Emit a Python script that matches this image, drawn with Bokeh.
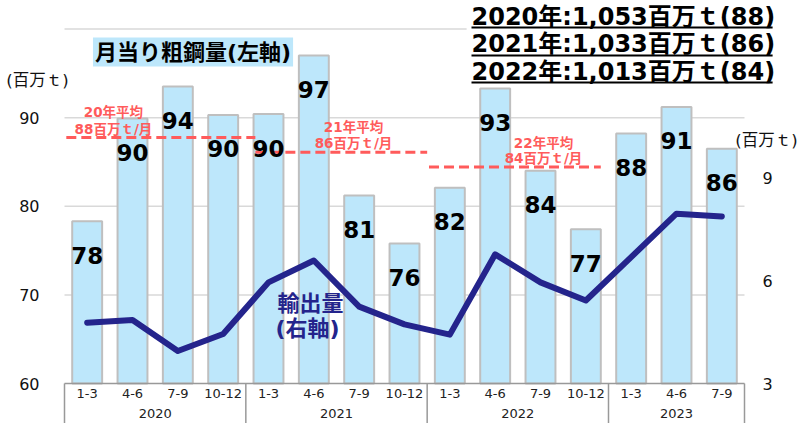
from bokeh.plotting import figure
from bokeh.models import Range1d, Label, BoxAnnotation, ColumnDataSource
from bokeh.core.properties import value
from bokeh.embed import file_html
from bokeh.resources import INLINE

# ---------------- data ----------------
years = ["2020", "2021", "2022", "2023"]
quarters = ["1-3", "4-6", "7-9", "10-12"]
factors = [(y, q) for y in years for q in quarters][:15]

steel = [78.3, 89.9, 93.5, 90.3, 90.4, 97.0, 81.2, 75.8, 82.1, 93.3, 84.0, 77.4, 88.2, 91.2, 86.5]
steel_labels = ["78", "90", "94", "90", "90", "97", "81", "76", "82", "93", "84", "77", "88", "91", "86"]
exports = [4.78, 4.86, 3.95, 4.45, 5.96, 6.60, 5.25, 4.73, 4.43, 6.78, 5.96, 5.43, 6.70, 7.97, 7.89]

avg_years = ["20", "21", "22"]
avg_values = [87.75, 86.08, 84.42]
avg_rounded = ["88", "86", "84"]
annual_years = ["2020", "2021", "2022"]
annual_totals = ["1,053", "1,033", "1,013"]

left_ticks = [60, 70, 80, 90]
grid_ticks = [70, 80, 90, 100]
right_ticks = [3, 6, 9]
unit_text = "(百万ｔ)"

# ---------------- style ----------------
BAR_FILL = "#BDE7FB"
BAR_LINE = "#BFBFBF"
NAVY = "#24248C"
RED = "#FF5B5B"
GRID = "#D9D9D9"
AXIS = "#999999"
TXT = "#111111"
FONT = "DejaVu Sans, Noto Sans CJK JP"

Y0 = 60  # baseline of the bars / category axis
n = len(factors)

# the plotting frame fills the whole canvas; the category slots occupy 0..n
p = figure(width=798, height=423,
           x_range=Range1d(-1.4118, 16.1912),
           y_range=Range1d(55.487, 103.216),
           x_axis_location=None, y_axis_location=None,
           output_backend="svg", toolbar_location=None,
           min_border_left=0, min_border_right=0, min_border_top=0, min_border_bottom=0)
p.outline_line_color = None
p.xgrid.visible = False
p.ygrid.visible = False
p.extra_y_ranges = {"r": Range1d(1.8294, 14.209)}

xs = [i + 0.5 for i in range(n)]
src = ColumnDataSource(dict(x=xs, steel=steel, lab=steel_labels, exp=exports,
                            q=[f[1] for f in factors]))

# horizontal grid lines (left scale)
p.segment(x0=[0] * len(grid_ticks), x1=[n] * len(grid_ticks), y0=grid_ticks, y1=grid_ticks,
          line_color=GRID, line_width=1.5)

# left axis labels
p.text(x=[-0.551] * len(left_ticks), y=left_ticks, text=[str(t) for t in left_ticks],
       text_align="right", text_baseline="middle", text_font=value(FONT),
       text_font_size="16px", text_color=TXT)
# right axis labels
p.text(x=[15.397] * len(right_ticks), y=right_ticks, text=[str(t) for t in right_ticks],
       y_range_name="r", text_align="left", text_baseline="middle", text_font=value(FONT),
       text_font_size="16px", text_color=TXT)
# unit labels
p.text(x=[-0.596, 15.485], y=[94.19, 87.42], text=[unit_text, unit_text],
       text_align="center", text_baseline="middle", text_font=value(FONT),
       text_font_size="16.5px", text_color=TXT)

# bars
p.vbar(x="x", top="steel", bottom=Y0, width=0.66, source=src,
       fill_color=BAR_FILL, line_color=BAR_LINE, line_width=2)

# category axis (two levels)
bounds = [0] + [i for i in range(1, n) if factors[i][0] != factors[i - 1][0]] + [n]
p.segment(x0=[0], x1=[n], y0=[Y0], y1=[Y0], line_color=AXIS, line_width=1.5)
p.segment(x0=bounds, x1=bounds, y0=[Y0] * len(bounds), y1=[p.y_range.start] * len(bounds),
          line_color=AXIS, line_width=1.5)
p.text(x="x", y=Y0, text="q", source=src, y_offset=10, text_align="center",
       text_baseline="middle", text_font=value(FONT), text_font_size="13px",
       text_color="#222222")
grp_x = [(bounds[i] + bounds[i + 1]) / 2 for i in range(len(bounds) - 1)]
grp_names = [factors[bounds[i]][0] for i in range(len(bounds) - 1)]
p.text(x=grp_x, y=[Y0] * len(grp_x), text=grp_names, y_offset=30, text_align="center",
       text_baseline="middle", text_font=value(FONT), text_font_size="13px",
       text_color="#222222")

# yearly average dashed lines
avg_spans = [(0.04, 4.21), (4.21, 8.0), (8.04, 11.83)]
p.segment(x0=[s[0] for s in avg_spans], x1=[s[1] for s in avg_spans],
          y0=avg_values, y1=avg_values, line_color=RED, line_width=3, line_dash="10 5")

# export line (right scale)
p.line(x="x", y="exp", source=src, y_range_name="r", line_color=NAVY, line_width=6,
       line_join="round", line_cap="round")

# bar labels
p.text(x="x", y="steel", text="lab", source=src, y_offset=34,
       text_align="center", text_baseline="middle", text_font=value(FONT),
       text_font_size="23px", text_font_style="bold", text_color="black")

# average texts
avg_text_x = [1.08, 6.375, 10.566]
avg_text_y1 = [90.58, 88.89, 87.19]
avg_text_y2 = [88.77, 87.19, 85.50]
p.text(x=avg_text_x, y=avg_text_y1, text=[f"{y}年平均" for y in avg_years],
       text_align="center", text_baseline="middle", text_font=value(FONT),
       text_font_size="13.5px", text_font_style="bold", text_color=RED)
p.text(x=avg_text_x, y=avg_text_y2, text=[f"{v}百万ｔ/月" for v in avg_rounded],
       text_align="center", text_baseline="middle", text_font=value(FONT),
       text_font_size="13.5px", text_font_style="bold", text_color=RED)

# export label
p.text(x=[5.427, 5.36], y=[69.03, 66.21], text=["輸出量", "(右軸)"],
       text_align="center", text_baseline="middle", text_font=value(FONT),
       text_font_size="22px", text_font_style="bold", text_color=NAVY)

# title box
p.add_layout(Label(x=2.835, y=97.40, text="月当り粗鋼量(左軸)", text_align="center",
                   text_baseline="middle", text_font=FONT, text_font_size="22px",
                   text_font_style="bold", text_color="black",
                   background_fill_color=BAR_FILL, padding=2))

# top-right annual summary
p.add_layout(BoxAnnotation(left=8.87, right=15.75, bottom=93.62, top=103.3,
                           fill_color="white", fill_alpha=1, line_color=None))
tr_y = [101.41, 98.307, 95.204]
ul_y = [100.169, 97.01, 93.96]
for yr, tot, av, ty, uy in zip(annual_years, annual_totals, avg_rounded, tr_y, ul_y):
    p.add_layout(Label(x=8.978, y=ty, text=f"{yr}年:{tot}百万ｔ({av})", text_align="left",
                       text_baseline="middle", text_font=FONT, text_font_size="24px",
                       text_font_style="bold", text_color="black"))
    p.add_layout(BoxAnnotation(left=8.978, right=15.62, bottom=uy - 0.12, top=uy + 0.12,
                               fill_color="black", fill_alpha=1, line_color=None))

open("out.html", "w").write(file_html(p, INLINE))
